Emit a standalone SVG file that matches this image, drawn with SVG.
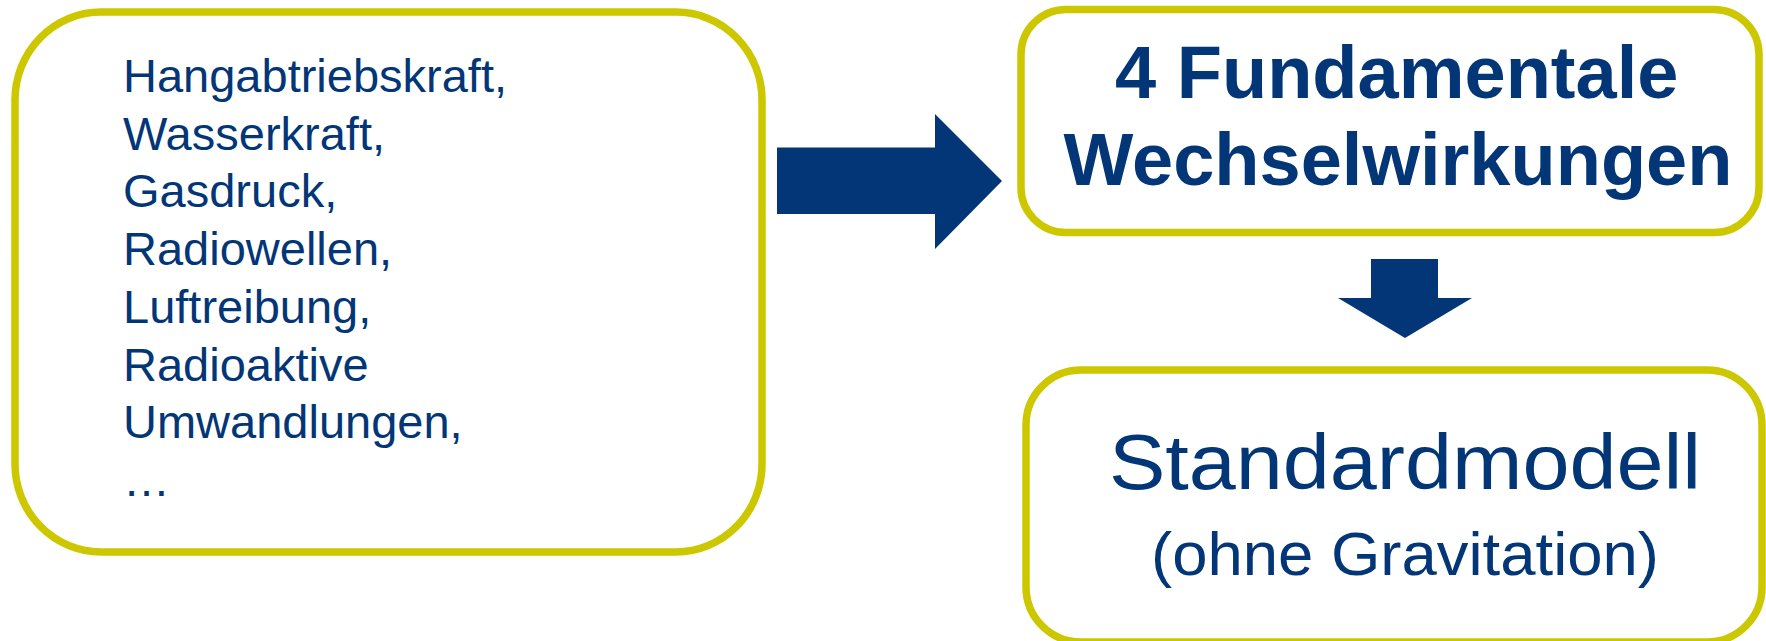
<svg xmlns="http://www.w3.org/2000/svg" width="1766" height="641" viewBox="0 0 1766 641">
<style>
.box{fill:#ffffff;stroke:#cdc700;stroke-width:7.5}
.arr{fill:#033677}
.t{font-family:"Liberation Sans",Arial,sans-serif;fill:#033677}
.b{font-weight:bold}
</style>
<rect width="1766" height="641" fill="#ffffff"/>
<g id="connectors">
<polygon class="arr" points="777,147.5 935,147.5 935,114 1002,181 935,249 935,214 777,214"/>
<polygon class="arr" points="1371,259 1438,259 1438,298 1472,298 1405,338 1338,298 1371,298"/>
</g>
<g id="node-forces">
<rect class="box" x="15" y="12" width="747" height="540" rx="86" ry="88"/>
<text class="t" font-size="47" x="123">
<tspan x="123" y="92">Hangabtriebskraft,</tspan>
<tspan x="123" y="149.7">Wasserkraft,</tspan>
<tspan x="123" y="207.4">Gasdruck,</tspan>
<tspan x="123" y="265.1">Radiowellen,</tspan>
<tspan x="123" y="322.8">Luftreibung,</tspan>
<tspan x="123" y="380.5">Radioaktive</tspan>
<tspan x="123" y="438.2">Umwandlungen,</tspan>
<tspan x="123" y="495.9">…</tspan>
</text>
</g>
<g id="node-interactions">
<rect class="box" x="1021" y="9.5" width="738" height="223" rx="45" ry="45"/>
<text class="t b" font-size="74" text-anchor="middle">
<tspan x="1407" y="98">4 Fundamentale</tspan>
<tspan x="1398" y="185">Wechselwirkungen</tspan>
</text>
</g>
<g id="node-standardmodel">
<rect class="box" x="1026" y="370" width="736" height="272" rx="55" ry="55"/>
<text class="t" text-anchor="middle" x="1405" y="489" font-size="78" textLength="592" lengthAdjust="spacingAndGlyphs">Standardmodell</text>
<text class="t" text-anchor="middle" x="1405" y="575" font-size="62" textLength="508" lengthAdjust="spacingAndGlyphs">(ohne Gravitation)</text>
</g>
</svg>
